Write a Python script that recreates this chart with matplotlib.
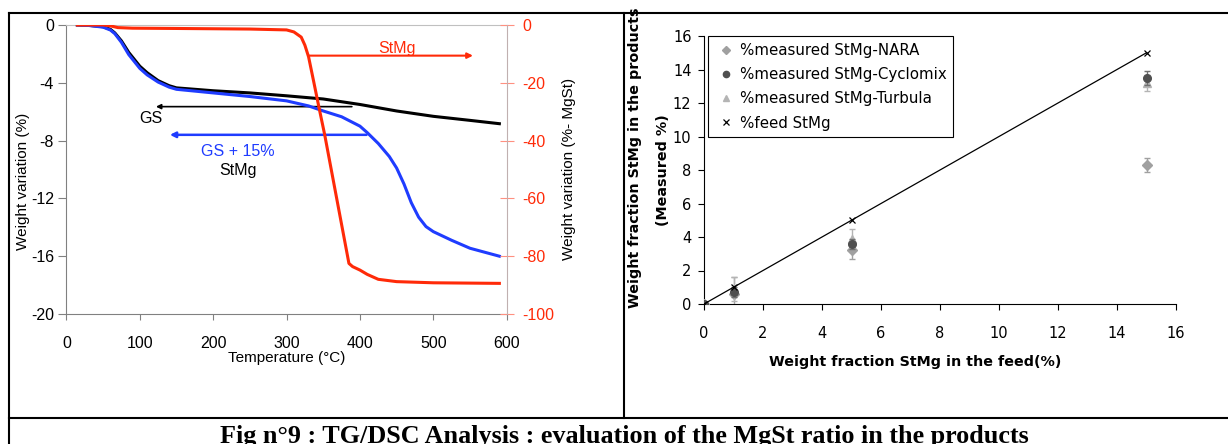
import matplotlib
matplotlib.use('Agg')
import matplotlib.pyplot as plt
from matplotlib.lines import Line2D

plt.rcParams['axes.unicode_minus'] = False

# --- TG curves (left chart) ---
gs_T = [15, 30, 50, 60, 66, 75, 85, 100, 110, 125, 140, 150, 200, 250, 300, 350, 400, 450, 500, 550, 590]
gs_w = [0, -0.02, -0.12, -0.3, -0.55, -1.1, -1.9, -2.85, -3.3, -3.85, -4.2, -4.35, -4.55, -4.7, -4.9, -5.12, -5.5, -5.95, -6.32, -6.6, -6.83]

gs15_T = [15, 30, 50, 60, 66, 75, 85, 100, 110, 125, 140, 150, 200, 250, 300, 330, 350, 375, 400, 410,
          425, 440, 450, 460, 470, 480, 490, 500, 525, 550, 590]
gs15_w = [0, -0.03, -0.15, -0.35, -0.6, -1.2, -2.05, -3.0, -3.45, -3.95, -4.3, -4.45, -4.7, -4.95, -5.25, -5.6,
          -5.95, -6.35, -7.0, -7.45, -8.2, -9.1, -9.9, -11.0, -12.3, -13.3, -13.95, -14.3, -14.9, -15.45, -16.0]

stmg_T = [15, 50, 60, 70, 90, 150, 250, 300, 310, 320, 325, 330, 337, 344, 352, 385, 390, 400, 410, 425, 450, 500, 590]
stmg_w = [0, 0, -0.3, -0.9, -1.1, -1.2, -1.4, -1.7, -2.4, -4.2, -7.0, -11.0, -19.6, -28.3, -38.0, -82.5,
          -83.6, -84.8, -86.3, -88.0, -88.8, -89.2, -89.4]

# --- measured vs feed (right chart) ---
feed = [0, 1, 5, 15]
nara = [0, 0.6, 3.2, 8.3]
nara_err = [0, 1.0, 0.5, 0.4]
cyclomix = [0, 0.7, 3.6, 13.5]
cyclomix_err = [0, 0.3, 0.3, 0.4]
turbula = [0, 0.9, 3.9, 13.2]
turbula_err = [0, 0.7, 0.55, 0.5]

W, H = 1228, 444
fig = plt.figure(figsize=(W / 100, H / 100), dpi=100)

RED = '#ff2a08'
BLUE = '#1f3cff'
arial = 'Liberation Sans'

# ---------------- left chart ----------------
ax = fig.add_axes([66.4 / W, 1 - 314 / H, (506.7 - 66.4) / W, (314 - 25) / H])
ax.plot(gs_T, gs_w, color='black', lw=2.2, zorder=3)
ax.plot(gs15_T, gs15_w, color=BLUE, lw=2.2, zorder=4)
ax.set_xlim(0, 600)
ax.set_ylim(-20, 0)
ax.set_xticks([0, 100, 200, 300, 400, 500, 600])
ax.set_yticks([0, -4, -8, -12, -16, -20])
for s in ['left', 'bottom']:
    ax.spines[s].set_color('#808080')
ax.spines['top'].set_color('#c0c0c0')
ax.spines['right'].set_visible(False)
ax.tick_params(axis='x', direction='out', length=4, color='#808080', pad=12, labelsize=11.5)
ax.tick_params(axis='y', direction='out', length=6, color='#808080', pad=3, labelsize=11.5)
for lab in ax.get_xticklabels() + ax.get_yticklabels():
    lab.set_family(arial)

ax2 = ax.twinx()
ax2.plot(stmg_T, stmg_w, color=RED, lw=2.2, zorder=5)
ax2.set_ylim(-100, 0)
ax2.set_yticks([0, -20, -40, -60, -80, -100])
for s in ['left', 'bottom', 'top']:
    ax2.spines[s].set_visible(False)
ax2.spines['right'].set_color('#c0b0b0')
ax2.tick_params(axis='y', direction='inout', length=10, color='#ff9080', labelcolor=RED, pad=6, labelsize=11.5)
for lab in ax2.get_yticklabels():
    lab.set_family(arial)

# arrows and annotations
ax2.annotate('', xy=(554, -10.6), xytext=(330, -10.6),
             arrowprops=dict(arrowstyle='-|>', color=RED, lw=1.5, mutation_scale=8, shrinkA=0, shrinkB=0))
ax2.text(451, -8.2, 'StMg', color=RED, fontsize=11.5, family=arial, ha='center', va='center')
ax.annotate('', xy=(122, -5.65), xytext=(389, -5.65),
            arrowprops=dict(arrowstyle='-|>', color='black', lw=1.2, mutation_scale=7, shrinkA=0, shrinkB=0))
ax.text(115, -6.5, 'GS', color='black', fontsize=11.5, family=arial, ha='center', va='center')
ax.annotate('', xy=(141, -7.6), xytext=(409, -7.6),
            arrowprops=dict(arrowstyle='-|>', color=BLUE, lw=1.8, mutation_scale=8, shrinkA=0, shrinkB=0))
ax.text(234, -8.75, 'GS + 15%', color=BLUE, fontsize=11.5, family=arial, ha='center', va='center')
ax.text(234, -10.05, 'StMg', color='black', fontsize=11.5, family=arial, ha='center', va='center')

fig.text(23 / W, 1 - 181 / H, 'Weight variation (%)', rotation=90, fontsize=11, family=arial,
         ha='center', va='center')
fig.text(569 / W, 1 - 169 / H, 'Weight variation (%- MgSt)', rotation=90, fontsize=11, family=arial,
         ha='center', va='center')
fig.text(286.6 / W, 1 - 358 / H, 'Temperature (°C)', fontsize=11, family=arial, ha='center', va='center')

# ---------------- right chart ----------------
bx = fig.add_axes([704 / W, 1 - 304 / H, (1176 - 704) / W, (304 - 36) / H])
bx.errorbar(feed, nara, yerr=nara_err, fmt='D', color='#a0a0a0', ms=5, ecolor='#a0a0a0',
            elinewidth=1, capsize=2, zorder=3)
bx.errorbar(feed, turbula, yerr=turbula_err, fmt='^', color='#b4b4b4', ms=6, ecolor='#b4b4b4',
            elinewidth=1, capsize=2, zorder=4)
bx.errorbar(feed, cyclomix, yerr=cyclomix_err, fmt='o', color='#505050', ms=5.5, ecolor='#707070',
            elinewidth=1, capsize=2, zorder=5)
bx.plot(feed, feed, color='black', lw=0.9, marker='x', ms=5, mew=0.9, zorder=6)
bx.set_xlim(0, 16)
bx.set_ylim(0, 16)
bx.set_xticks(range(0, 17, 2))
bx.set_yticks(range(0, 17, 2))
bx.spines['top'].set_visible(False)
bx.spines['right'].set_visible(False)
bx.tick_params(direction='out', length=4, labelsize=10.5)
bx.tick_params(axis='x', pad=12)
bx.tick_params(axis='y', pad=5)

# legend shows markers only
proxies = [
    Line2D([], [], ls='none', marker='D', ms=4, color='#a0a0a0'),
    Line2D([], [], ls='none', marker='o', ms=4.5, color='#505050'),
    Line2D([], [], ls='none', marker='^', ms=5, color='#b4b4b4'),
    Line2D([], [], ls='none', marker='x', ms=4.5, mew=0.9, color='black'),
]
leg_labels = ['%measured StMg-NARA', '%measured StMg-Cyclomix', '%measured StMg-Turbula', '%feed StMg']
leg = bx.legend(proxies, leg_labels,
                loc='upper left', bbox_to_anchor=(0.0076, 1.0), borderaxespad=0,
                fontsize=10.8, frameon=True, fancybox=False, framealpha=1, edgecolor='black',
                handlelength=1.6, handletextpad=0.1, labelspacing=0.62, borderpad=0.45)
leg.get_frame().set_linewidth(0.8)

fig.text(635.5 / W, 1 - 158 / H, 'Weight fraction StMg in the products', rotation=90, fontsize=10.3,
         fontweight='bold', ha='center', va='center')
fig.text(662.6 / W, 1 - 170 / H, '(Measured %)', rotation=90, fontsize=10.3,
         fontweight='bold', ha='center', va='center')
fig.text(915 / W, 1 - 362 / H, 'Weight fraction StMg in the feed(%)', fontsize=10.3,
         fontweight='bold', ha='center', va='center')

# ---------------- table frame + caption ----------------
kw = dict(color='black', lw=1.5, transform=fig.transFigure)
fig.add_artist(Line2D([8.7 / W, 1], [1 - 13.5 / H, 1 - 13.5 / H], **kw))
fig.add_artist(Line2D([8.7 / W, 8.7 / W], [0, 1 - 13.5 / H], **kw))
fig.add_artist(Line2D([624 / W, 624 / W], [1 - 417.5 / H, 1 - 13.5 / H], **kw))
fig.add_artist(Line2D([8.7 / W, 1], [1 - 417.5 / H, 1 - 417.5 / H], **kw))

fig.text(624.5 / W, 1 - 443 / H, 'Fig n°9 : TG/DSC Analysis : evaluation of the MgSt ratio in the products',
         family='Liberation Serif', fontweight='bold', fontsize=18.8, ha='center', va='baseline')

fig.savefig('out.png', dpi=100)
